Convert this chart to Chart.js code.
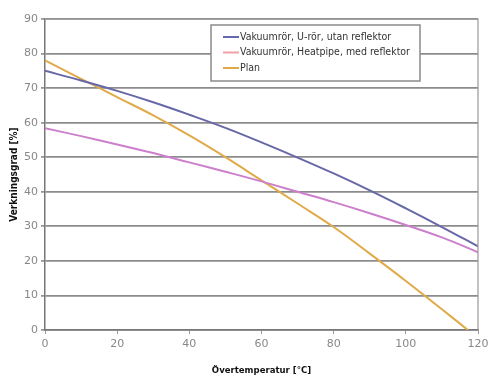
<!DOCTYPE html>
<html><head><meta charset="utf-8">
<script src="https://cdn.jsdelivr.net/npm/chart.js@4/dist/chart.umd.min.js"></script>
<style>html,body{margin:0;padding:0;background:#fff}#wrap{width:488px;height:376px}</style>
</head><body><div id="wrap"><canvas id="c" width="488" height="376"></canvas></div>
<script>
const temps = [0,10,20,30,40,50,60,70,80,90,100,110,120];
const uRor = [75,72.2,69.2,65.9,62.3,58.5,54.3,49.9,45.3,40.4,35.2,29.8,24.2];
const heatpipe = [58.4,56.1,53.7,51.2,48.5,45.8,43.0,40.0,37.0,33.8,30.4,26.8,22.5];
const planTemps = [0,10,20,30,40,50,60,70,80,90,100,110,117.2];
const plan = [78,72.7,67.4,62.1,56.3,50,43.3,36.6,29.8,22.1,14.2,6.0,0];
const seriesLabels = ["Vakuumrör, U-rör, utan reflektor","Vakuumrör, Heatpipe, med reflektor","Plan"];
const xTicks = [0,20,40,60,80,100,120];
const yTicks = [0,10,20,30,40,50,60,70,80,90];

const toPts = (xs, ys) => xs.map((x,i)=>({x:x,y:ys[i]}));
const lineColors = ["#6868a8","#cc80cc","#e0aa48"];
const swatchColors = ["#6868b0","#f0a0a8","#e0aa48"];

const legendPlugin = {
  id:'boxLegend',
  afterDraw(chart){
    const ctx = chart.ctx;
    const x0=211,y0=25,w=209,h=56;
    ctx.save();
    ctx.fillStyle="#fff";ctx.fillRect(x0,y0,w,h);
    ctx.strokeStyle="#8a8a8a";ctx.lineWidth=1.5;ctx.strokeRect(x0,y0,w,h);
    ctx.font="10.5px 'DejaVu Sans Condensed', 'DejaVu Sans', sans-serif";
    ctx.textBaseline="middle";
    chart.data.datasets.forEach((ds,i)=>{
      const yy=y0+12+i*15.5;
      ctx.strokeStyle=swatchColors[i];ctx.lineWidth=2;
      ctx.beginPath();ctx.moveTo(x0+12,yy);ctx.lineTo(x0+28,yy);ctx.stroke();
      ctx.fillStyle="#333";ctx.fillText(ds.label,x0+29,yy);
    });
    ctx.restore();
  }
};

new Chart(document.getElementById('c'),{
  type:'scatter',
  data:{datasets:[
    {label:seriesLabels[0],data:toPts(temps,uRor),borderColor:lineColors[0],showLine:true,pointRadius:0,borderWidth:2,tension:0.4},
    {label:seriesLabels[1],data:toPts(temps,heatpipe),borderColor:lineColors[1],showLine:true,pointRadius:0,borderWidth:2,tension:0.4},
    {label:seriesLabels[2],data:toPts(planTemps,plan),borderColor:lineColors[2],showLine:true,pointRadius:0,borderWidth:2,tension:0.4}
  ]},
  options:{
    responsive:false,animation:false,
    layout:{padding:{top:19,right:0,left:0,bottom:0}},
    plugins:{legend:{display:false},tooltip:{enabled:false}},
    scales:{
      x:{type:'linear',min:0,max:120,
        afterBuildTicks(s){s.ticks=xTicks.map(v=>({value:v}));},
        afterFit(s){s.height=46;s.paddingRight=10;},
        grid:{display:true,drawOnChartArea:false,drawTicks:true,tickLength:4,color:"#999"},
        border:{display:true,color:"#777",width:1.5},
        ticks:{color:"#888",font:{size:11,family:"'DejaVu Sans', sans-serif"},padding:4,maxRotation:0},
        title:{display:true,text:"Övertemperatur [°C]",color:"#111",font:{size:9.5,weight:'bold',family:"'DejaVu Sans Condensed','DejaVu Sans', sans-serif"},padding:{top:3,bottom:0}}
      },
      y:{min:0,max:90,
        afterBuildTicks(s){s.ticks=yTicks.map(v=>({value:v}));},
        afterFit(s){s.width=45;},
        grid:{display:true,color:"#8c8c8c",lineWidth:1.8,tickLength:4,tickColor:"#999"},
        border:{display:true,color:"#777",width:1.5},
        ticks:{color:"#888",font:{size:11,family:"'DejaVu Sans', sans-serif"},padding:3},
        title:{display:true,text:"Verkningsgrad [%]",color:"#111",font:{size:10,weight:'bold',family:"'DejaVu Sans Condensed','DejaVu Sans', sans-serif"},padding:{top:8,bottom:2}}
      }
    }
  },
  plugins:[{
    id:'frame',
    afterDraw(chart){
      const a=chart.chartArea,ctx=chart.ctx;
      ctx.save();ctx.strokeStyle="#999";ctx.lineWidth=1.2;
      ctx.beginPath();ctx.moveTo(a.left,a.top);ctx.lineTo(a.right,a.top);ctx.lineTo(a.right,a.bottom);ctx.stroke();
      ctx.restore();
    }
  },legendPlugin]
});
</script></body></html>
